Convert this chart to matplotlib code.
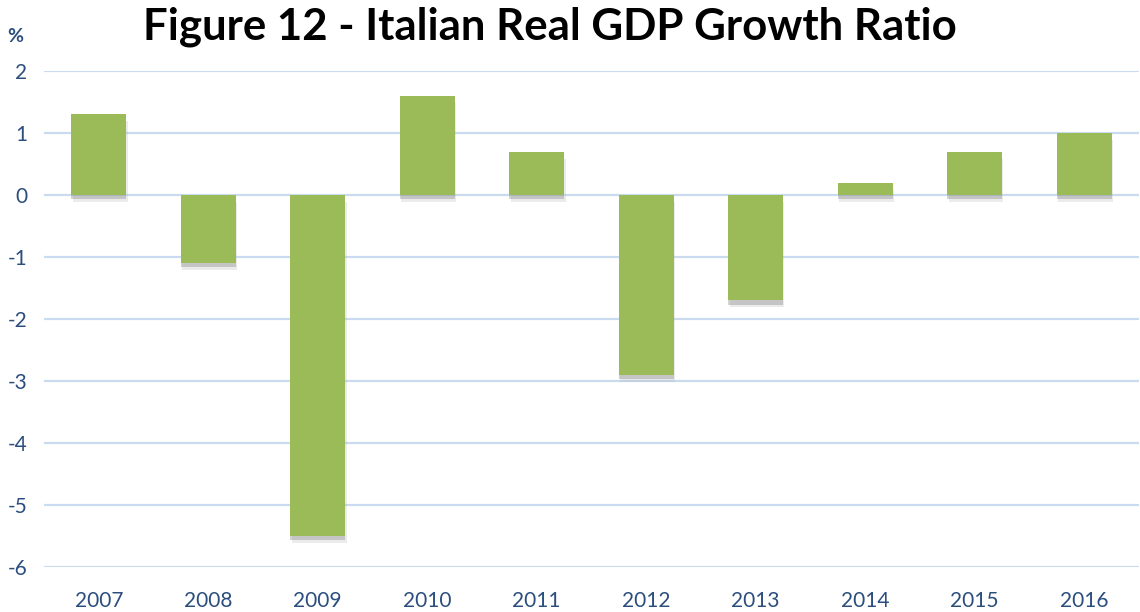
# Italian real GDP growth, bar chart

import matplotlib
matplotlib.use('Agg')
import matplotlib.pyplot as plt
import matplotlib.patheffects as pe

years = ['2007', '2008', '2009', '2010', '2011', '2012', '2013', '2014', '2015', '2016']
growth = [1.3, -1.1, -5.5, 1.6, 0.7, -2.9, -1.7, 0.2, 0.7, 1.0]
y_ticks = [2, 1, 0, -1, -2, -3, -4, -5, -6]

plt.rcParams['font.family'] = ['Lato', 'DejaVu Sans']

fig = plt.figure(figsize=(11.4, 6.12), dpi=100)
ax = fig.add_axes([0.0386, 0.0735, 0.9605, 0.8105])

bar_color = '#9BBB59'
text_color = '#2B4E7E'
grid_color = '#CADBF0'

# grid lines behind the bars
for t in y_ticks:
    ax.axhline(t, color=grid_color, linewidth=1.6, zorder=0)

bars = ax.bar(range(len(years)), growth, width=0.5, color=bar_color, zorder=3)

# soft drop shadow under each bar
for b in bars:
    b.set_path_effects([
        pe.SimplePatchShadow(offset=(1, -5), shadow_rgbFace='#b0b0b0', alpha=0.25),
        pe.SimplePatchShadow(offset=(0, -3), shadow_rgbFace='#808080', alpha=0.35),
        pe.Normal(),
    ])

ax.set_xlim(-0.5, len(years) - 0.5)
ax.set_ylim(-6, 2)
ax.set_xticks(range(len(years)))
ax.set_xticklabels(years)
ax.set_yticks(y_ticks)
ax.set_yticklabels([str(t) for t in y_ticks])
ax.tick_params(axis='both', length=0, labelsize=15, colors=text_color)
ax.tick_params(axis='x', pad=17)
ax.tick_params(axis='y', pad=12)
for s in ax.spines.values():
    s.set_visible(False)

fig.text(0.482, 0.956, 'Figure 12 - Italian Real GDP Growth Ratio',
         ha='center', va='center', fontsize=31.5, fontweight='bold', color='black')
fig.text(0.0135, 0.94, '%', ha='center', va='center', fontsize=14,
         fontweight='bold', color=text_color)

fig.savefig('out.png', dpi=100)
